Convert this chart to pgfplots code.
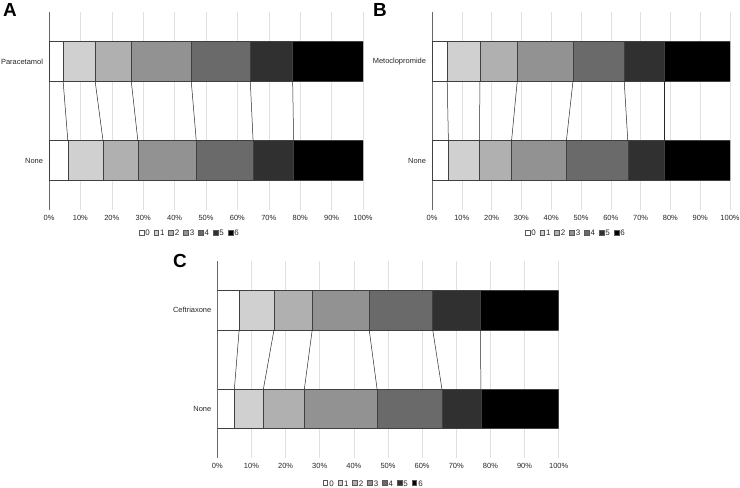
\documentclass[border=0pt]{standalone}
\usepackage{pgfplots}
\pgfplotsset{compat=1.18}
\usepackage{pgfplotstable}
\usepackage{fontspec}
\setmainfont{Liberation Sans}

\definecolor{c0}{HTML}{FFFFFF}
\definecolor{c1}{HTML}{D0D0D0}
\definecolor{c2}{HTML}{B0B0B0}
\definecolor{c3}{HTML}{929292}
\definecolor{c4}{HTML}{6A6A6A}
\definecolor{c5}{HTML}{303030}
\definecolor{c6}{HTML}{000000}

% rows: index 0 = None (bottom), index 1 = treatment (top)
\pgfplotstableread{
cat s0 s1 s2 s3 s4 s5 s6
None 6.0 11.2 11.1 18.6 18.1 12.9 22.1
Paracetamol 4.5 10.2 11.5 19.1 18.8 13.5 22.4
}\tabA
\pgfplotstableread{
cat s0 s1 s2 s3 s4 s5 s6
None 5.5 10.4 10.8 18.4 20.6 12.4 21.9
Metoclopromide 5.1 11.0 12.5 18.7 17.2 13.6 21.9
}\tabB
\pgfplotstableread{
cat s0 s1 s2 s3 s4 s5 s6
None 5.0 8.5 12.0 21.3 19.0 11.4 22.8
Ceftriaxone 6.4 10.2 11.2 16.7 18.6 14.0 22.9
}\tabC

\pgfplotsset{
  panel/.style={
    scale only axis,
    xbar stacked,
    xmin=0, xmax=100, ymin=-0.5, ymax=1.5,
    bar width=0.4,
    ytick={0,1},
    xtick={0,10,...,100},
    xticklabel={\pgfmathprintnumber{\tick}\%},
    /pgf/number format/assume math mode=true,
    xmajorgrids,
    grid style={draw=black!12, line width=0.6pt},
    axis lines*=left,
    x axis line style={draw=none},
    y axis line style={draw=black!60, line width=0.6pt},
    major tick length=0pt,
    tick style={draw=none},
    ticklabel style={font=\fontsize{7.5}{9}\selectfont, text=black!85},
    yticklabel style={xshift=-2.5bp},
    xticklabel style={yshift=-1.5bp},
    legend columns=7,
    legend style={draw=none, fill=none, font=\fontsize{8}{9}\selectfont, anchor=center,
      inner sep=0pt,
      nodes={inner sep=0.6bp, text=black!85},
      /tikz/every even column/.style={column sep=3.2bp},
      /tikz/every odd column/.style={column sep=0.8bp}},
    legend cell align=left,
  },
  seg/.style={fill=#1, draw=black!75, line width=0.5pt,
    legend image code/.code={\draw[fill=#1, draw=black!65, line width=0.4pt] (0bp,-0.9bp) rectangle (4.8bp,3.9bp);}},
  over/.style={scale only axis, hide axis, xmin=0, xmax=100, ymin=-0.5, ymax=1.5},
  conn/.style={black!85, line width=0.5pt, no markers},
}

\begin{document}
\begin{tikzpicture}
\useasboundingbox (0bp,0bp) rectangle (740bp,488bp);

% ---------------- Panel A ----------------
\begin{axis}[panel, at={(49bp,278bp)}, anchor=south west, width=314bp, height=198bp,
  yticklabels={None,Paracetamol},
  legend style={at={(0.446,-0.121)}}]
\addplot[seg=c0] table[x=s0, y expr=\coordindex] {\tabA};
\addplot[seg=c1] table[x=s1, y expr=\coordindex] {\tabA};
\addplot[seg=c2] table[x=s2, y expr=\coordindex] {\tabA};
\addplot[seg=c3] table[x=s3, y expr=\coordindex] {\tabA};
\addplot[seg=c4] table[x=s4, y expr=\coordindex] {\tabA};
\addplot[seg=c5] table[x=s5, y expr=\coordindex] {\tabA};
\addplot[seg=c6] table[x=s6, y expr=\coordindex] {\tabA};
\legend{0,1,2,3,4,5,6}
\end{axis}
\begin{axis}[over, at={(49bp,278bp)}, anchor=south west, width=314bp, height=198bp]
\addplot[conn] coordinates {(4.5,0.8) (6.0,0.2)};
\addplot[conn] coordinates {(14.7,0.8) (17.2,0.2)};
\addplot[conn] coordinates {(26.2,0.8) (28.3,0.2)};
\addplot[conn] coordinates {(45.3,0.8) (46.9,0.2)};
\addplot[conn] coordinates {(64.1,0.8) (65.0,0.2)};
\addplot[conn] coordinates {(77.6,0.8) (77.9,0.2)};
\end{axis}

% ---------------- Panel B ----------------
\begin{axis}[panel, at={(432bp,278bp)}, anchor=south west, width=298bp, height=198bp,
  yticklabels={None,Metoclopromide},
  legend style={at={(0.48,-0.121)}}]
\addplot[seg=c0] table[x=s0, y expr=\coordindex] {\tabB};
\addplot[seg=c1] table[x=s1, y expr=\coordindex] {\tabB};
\addplot[seg=c2] table[x=s2, y expr=\coordindex] {\tabB};
\addplot[seg=c3] table[x=s3, y expr=\coordindex] {\tabB};
\addplot[seg=c4] table[x=s4, y expr=\coordindex] {\tabB};
\addplot[seg=c5] table[x=s5, y expr=\coordindex] {\tabB};
\addplot[seg=c6] table[x=s6, y expr=\coordindex] {\tabB};
\legend{0,1,2,3,4,5,6}
\end{axis}
\begin{axis}[over, at={(432bp,278bp)}, anchor=south west, width=298bp, height=198bp]
\addplot[conn] coordinates {(5.1,0.8) (5.5,0.2)};
\addplot[conn] coordinates {(16.1,0.8) (15.9,0.2)};
\addplot[conn] coordinates {(28.6,0.8) (26.7,0.2)};
\addplot[conn] coordinates {(47.3,0.8) (45.1,0.2)};
\addplot[conn] coordinates {(64.5,0.8) (65.7,0.2)};
\addplot[conn] coordinates {(78.1,0.8) (78.1,0.2)};
\end{axis}

% ---------------- Panel C ----------------
\begin{axis}[panel, at={(217.3bp,30bp)}, anchor=south west, width=341.4bp, height=197bp,
  yticklabels={None,Ceftriaxone},
  legend style={at={(0.456,-0.132)}}]
\addplot[seg=c0] table[x=s0, y expr=\coordindex] {\tabC};
\addplot[seg=c1] table[x=s1, y expr=\coordindex] {\tabC};
\addplot[seg=c2] table[x=s2, y expr=\coordindex] {\tabC};
\addplot[seg=c3] table[x=s3, y expr=\coordindex] {\tabC};
\addplot[seg=c4] table[x=s4, y expr=\coordindex] {\tabC};
\addplot[seg=c5] table[x=s5, y expr=\coordindex] {\tabC};
\addplot[seg=c6] table[x=s6, y expr=\coordindex] {\tabC};
\legend{0,1,2,3,4,5,6}
\end{axis}
\begin{axis}[over, at={(217.3bp,30bp)}, anchor=south west, width=341.4bp, height=197bp]
\addplot[conn] coordinates {(6.4,0.8) (5.0,0.2)};
\addplot[conn] coordinates {(16.6,0.8) (13.5,0.2)};
\addplot[conn] coordinates {(27.8,0.8) (25.5,0.2)};
\addplot[conn] coordinates {(44.5,0.8) (46.8,0.2)};
\addplot[conn] coordinates {(63.1,0.8) (65.8,0.2)};
\addplot[conn] coordinates {(77.1,0.8) (77.2,0.2)};
\end{axis}

% panel letters
\node[anchor=north west, inner sep=0pt, font=\fontsize{19}{20}\selectfont\bfseries] at (3bp,485bp) {A};
\node[anchor=north west, inner sep=0pt, font=\fontsize{19}{20}\selectfont\bfseries] at (373bp,485bp) {B};
\node[anchor=north west, inner sep=0pt, font=\fontsize{19}{20}\selectfont\bfseries] at (173bp,234bp) {C};
\end{tikzpicture}
\end{document}
